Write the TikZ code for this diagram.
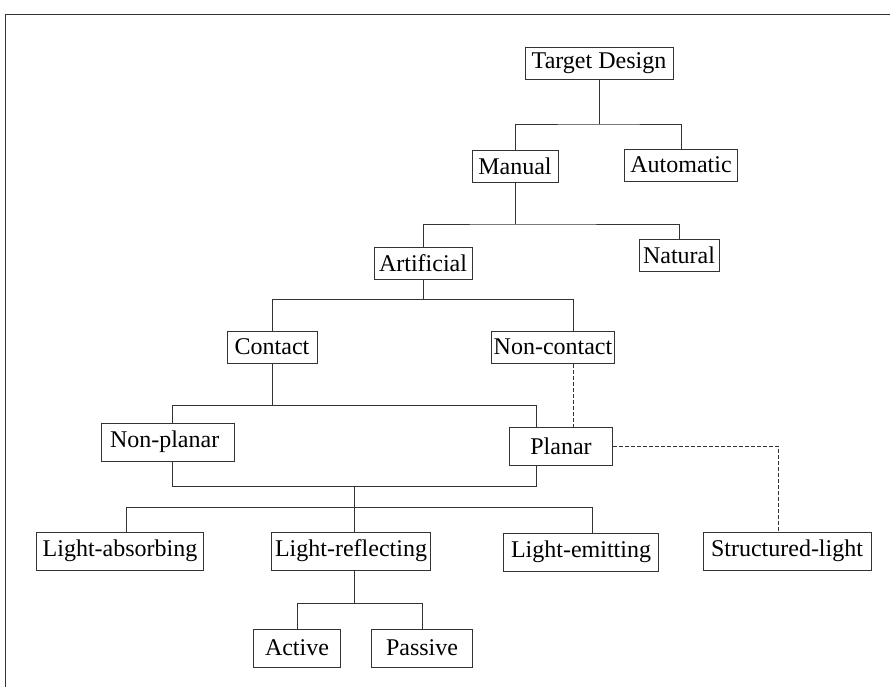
\documentclass[tikz,border=0pt]{standalone}
\usepackage{fontspec}
\setmainfont{Liberation Serif}
\usetikzlibrary{calc}

\begin{document}
\begin{tikzpicture}[x=0.5pt, y=-0.5pt,
      box/.style={draw=black!80, line width=0.5pt, inner sep=0pt,
        minimum height=16pt, font=\fontsize{12}{14}\selectfont},
      tallbox/.style={box, minimum height=19pt},
      link/.style={draw=black!80, line width=0.5pt},
      dashlink/.style={link, dash pattern=on 2pt off 1pt}]
      \useasboundingbox (0,0) rectangle (890,687);
      \draw[link] (5,687) -- (5,14) -- (890,14);

      \node[box, minimum width=74pt] (td) at (599,63) {Target Design};
      \node[box, minimum width=43pt] (man) at (515,166) {Manual};
      \node[box, minimum width=56.5pt] (auto) at (681,165) {Automatic};
      \node[box, minimum width=49pt] (art) at (423,263) {Artificial};
      \node[box, minimum width=40pt] (nat) at (679,255) {Natural};
      \node[box, minimum width=45pt] (con) at (272,347) {Contact};
      \node[box, minimum width=61.5pt] (ncon) at (553,347) {Non-contact};
      \node[tallbox, minimum width=66.5pt, text width=58pt, align=left] (npl) at (168,442) {Non-planar};
      \node[tallbox, minimum width=51.5pt] (pla) at (561,446) {Planar};
      \node[tallbox, minimum width=83.5pt] (labs) at (120,551) {Light-absorbing};
      \node[tallbox, minimum width=79.5pt] (lref) at (351,551) {Light-reflecting};
      \node[tallbox, minimum width=77.5pt] (lemi) at (581,552) {Light-emitting};
      \node[tallbox, minimum width=84pt] (str) at (787,551) {Structured-light};
      \node[tallbox, minimum width=43.5pt] (act) at (297,648) {Active};
      \node[tallbox, minimum width=50.5pt] (pas) at (422,648) {Passive};

      % branch points
      \coordinate (j1) at (599,124);
      \coordinate (j2) at (515,224);
      \coordinate (j3) at (573,299);
      \coordinate (j4l) at (172,405);
      \coordinate (j4r) at (536,405);
      \coordinate (j5l) at (172,486);
      \coordinate (j5r) at (536,486);
      \coordinate (j5m) at (354,486);
      \coordinate (h1) at (126,507);
      \coordinate (h2) at (592,507);
      \coordinate (j7) at (354,603);
      \coordinate (sc) at (778,446);

      \draw[link] (td) -- (j1);
      \draw[link] (man.north) |- (j1) -| (auto.north);
      \draw[link] (man) -- (man |- j2);
      \draw[link] (art.north) |- (j2) -| (nat.north);
      \draw[link] (art) -- (art |- j3);
      \draw[link] (con.north) |- (j3) -- (j3 |- ncon.north);
      \draw[dashlink] (j3 |- ncon.south) -- (j3 |- pla.north);
      \draw[link] (con) -- (con |- j4l);
      \draw[link] (j4l |- npl.north) -- (j4l) -- (j4r) -- (j4r |- pla.north);
      \draw[link] (j5l |- npl.south) -- (j5l) -- (j5r) -- (j5r |- pla.south);
      \draw[link] (j5m) -- (j5m |- lref.north);
      \draw[link] (h1 |- labs.north) -- (h1) -- (h2) -- (h2 |- lemi.north);
      \draw[dashlink] (pla.east) -- (sc) -- (sc |- str.north);
      \draw[link] (j7 |- lref.south) -- (j7);
      \draw[link] (act.north) |- (j7) -| (pas.north);
    \end{tikzpicture}
\end{document}
